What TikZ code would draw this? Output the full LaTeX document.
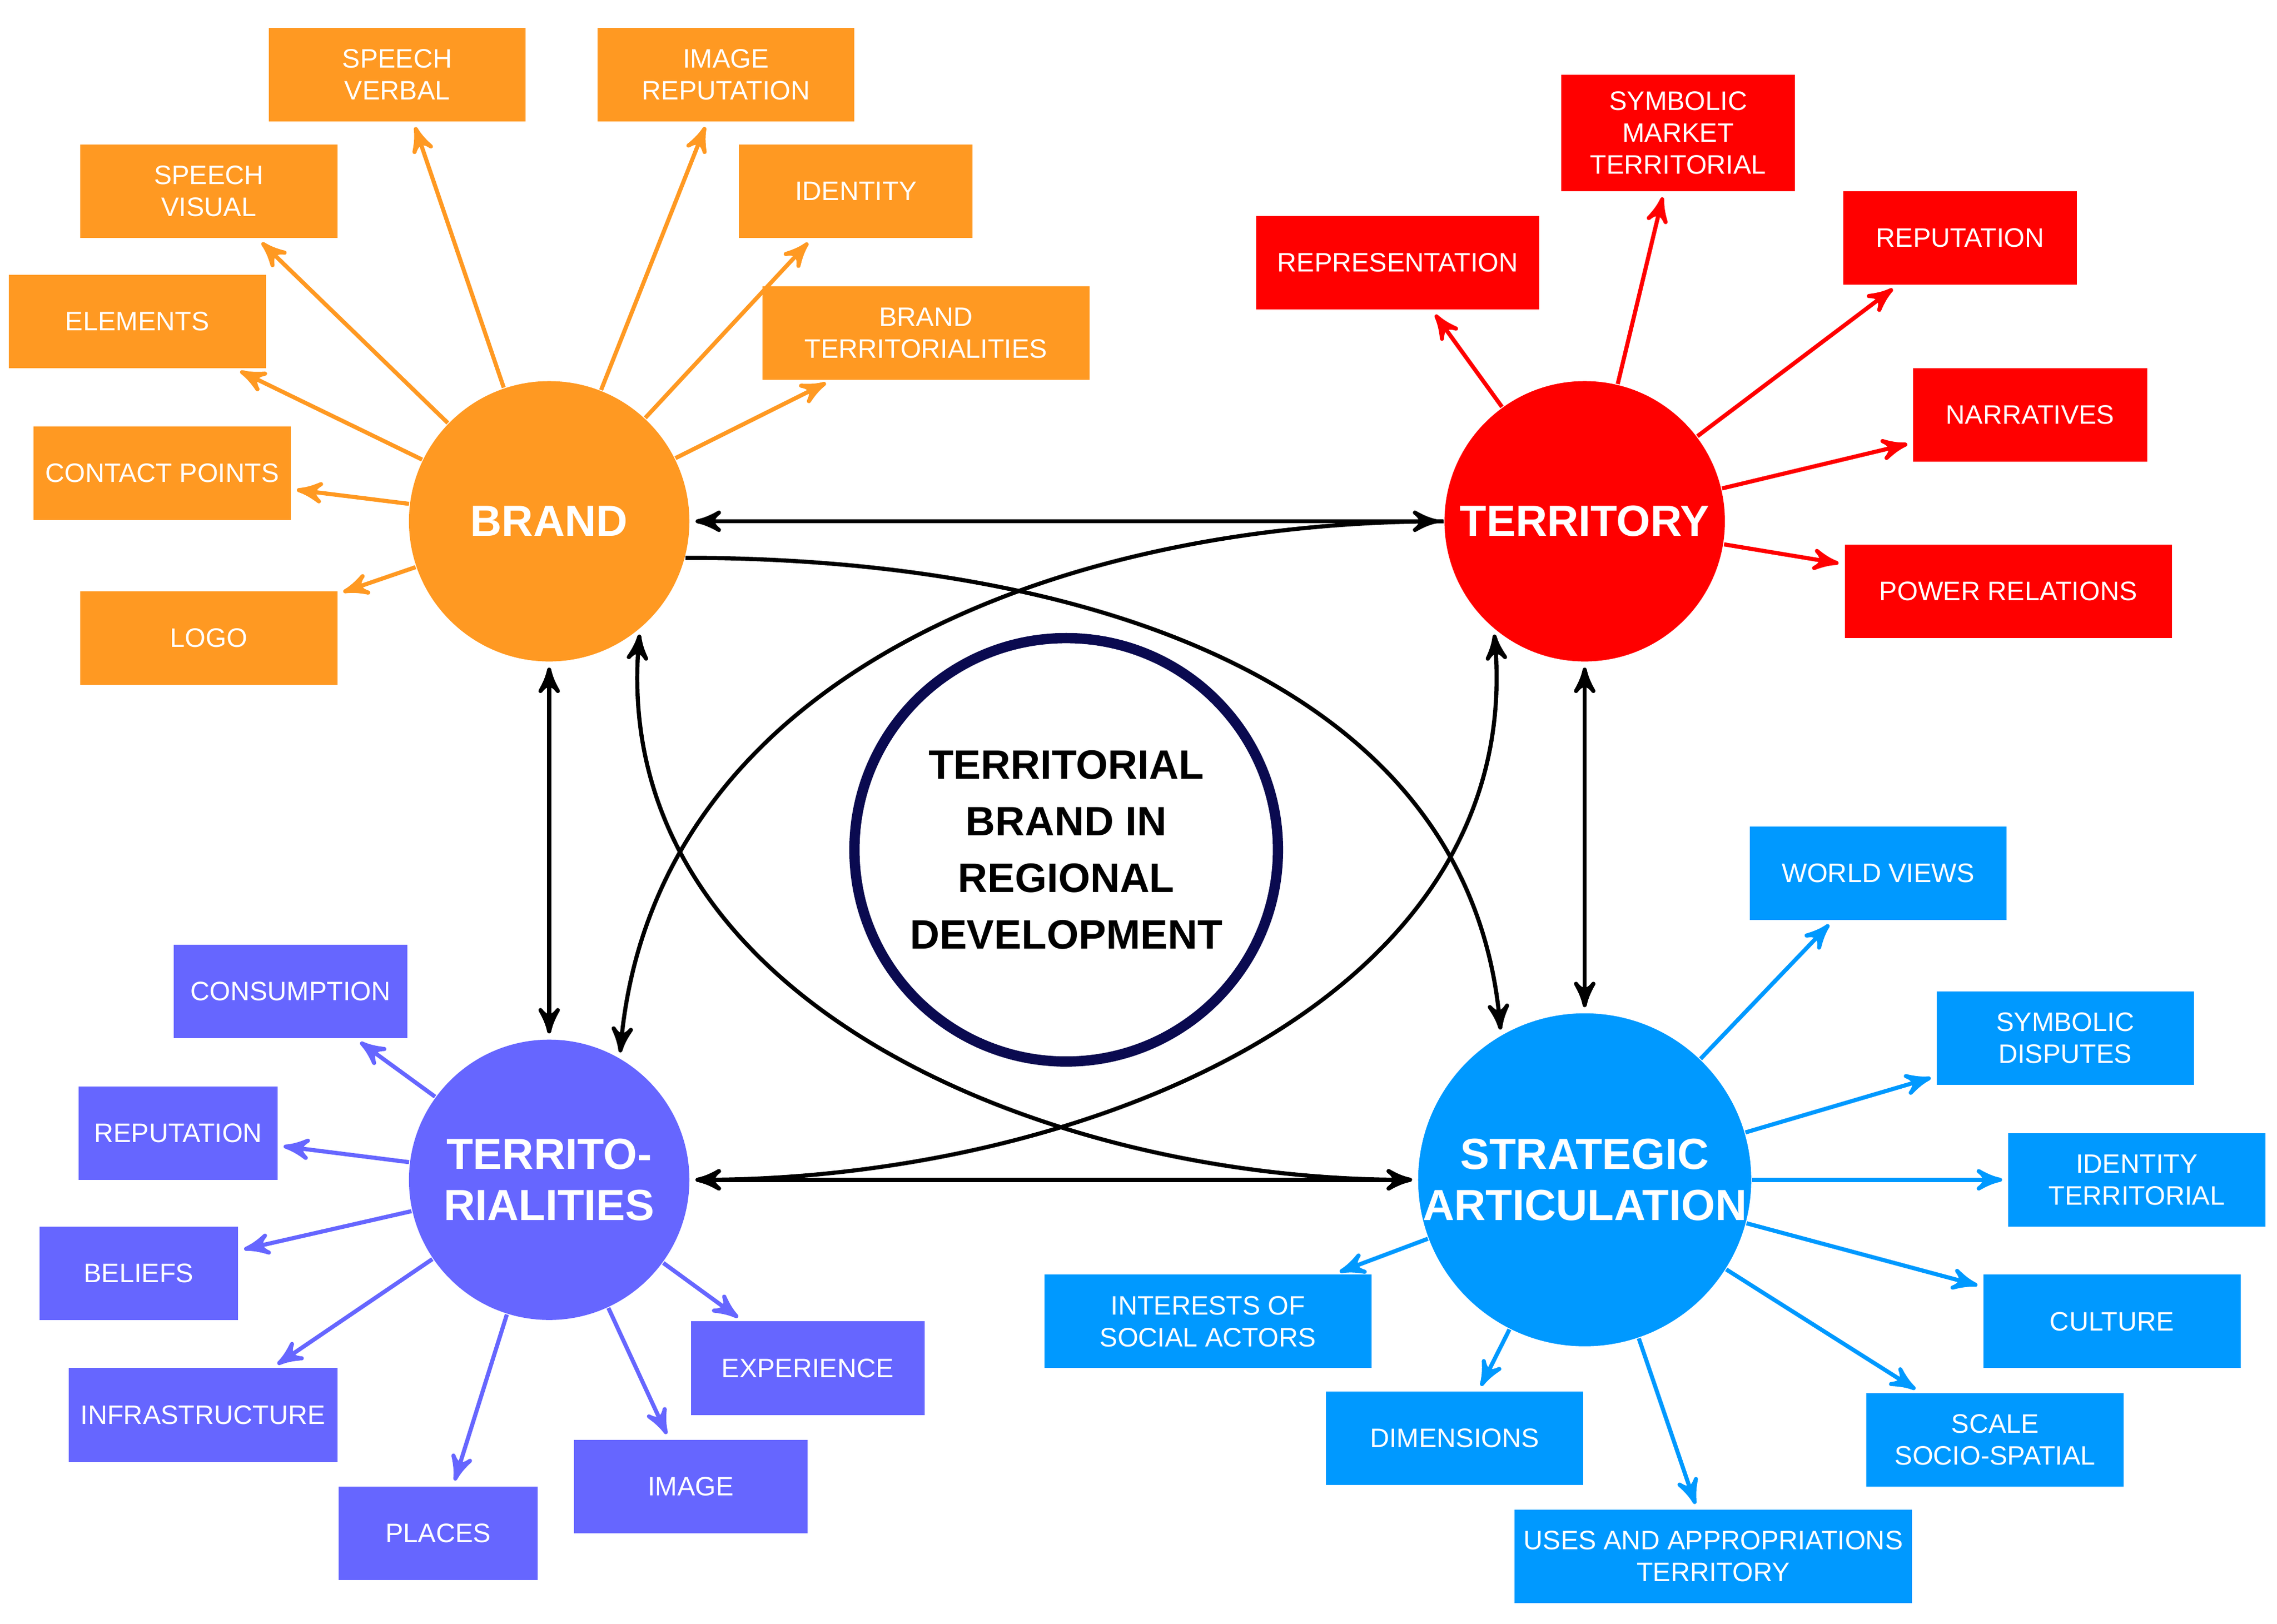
\documentclass[tikz,border=0pt]{standalone}
\usepackage{fontspec}
\setmainfont{Liberation Sans}
\usetikzlibrary{arrows}

\definecolor{brandc}{RGB}{255,153,34}
\definecolor{terrc}{RGB}{255,0,0}
\definecolor{tialc}{RGB}{102,102,255}
\definecolor{stratc}{RGB}{0,153,255}
\definecolor{navy}{RGB}{10,10,80}

\begin{document}
\begin{tikzpicture}[x=0.1mm,y=-0.1mm,>=stealth',
                    hub/.style={circle,minimum size=19.2mm,inner sep=0pt,text=white,align=center,
                                font=\fontsize{8.5}{10}\selectfont\bfseries},
                    box/.style={rectangle,minimum height=6.4mm,inner sep=1pt,text=white,align=center,
                                font=\fontsize{5.2}{6.2}\selectfont},
                    orange box/.style={box,fill=brandc},
                    red box/.style={box,fill=terrc},
                    purple box/.style={box,fill=tialc},
                    blue box/.style={box,fill=stratc},
                    spoke/.style={->,thick,shorten >=1pt}]
\useasboundingbox (0,0) rectangle (1559,1112);

% hubs
\node[hub,fill=brandc] (brand) at (376,357) {BRAND};
\node[hub,fill=terrc] (territory) at (1085,357) {TERRITORY};
\node[hub,fill=tialc] (tial) at (376,808) {TERRITO-\\RIALITIES};
\node[hub,fill=stratc] (strat) at (1085,808) {STRATEGIC\\ARTICULATION};
\node[circle,draw=navy,line width=2pt,minimum size=29mm,align=center,
      font=\fontsize{8}{11}\selectfont\bfseries] (center) at (730,582)
      {TERRITORIAL\\BRAND IN\\REGIONAL\\DEVELOPMENT};

% brand boxes
\node[orange box,minimum width=17.6mm] (b1) at (272,51) {SPEECH\\VERBAL};
\node[orange box,minimum width=17.6mm] (b2) at (497,51) {IMAGE\\REPUTATION};
\node[orange box,minimum width=17.6mm] (b3) at (143,131) {SPEECH\\VISUAL};
\node[orange box,minimum width=16mm] (b4) at (586,131) {IDENTITY};
\node[orange box,minimum width=17.6mm] (b5) at (94,220) {ELEMENTS};
\node[orange box,minimum width=22.4mm] (b6) at (634,228) {BRAND\\TERRITORIALITIES};
\node[orange box,minimum width=17.6mm] (b7) at (111,324) {CONTACT POINTS};
\node[orange box,minimum width=17.6mm] (b8) at (143,437) {LOGO};

% territory boxes
\node[red box,minimum width=16mm,minimum height=8mm] (t1) at (1149,91) {SYMBOLIC\\MARKET\\TERRITORIAL};
\node[red box,minimum width=19.4mm] (t2) at (957,180) {REPRESENTATION};
\node[red box,minimum width=16mm] (t3) at (1342,163) {REPUTATION};
\node[red box,minimum width=16mm] (t4) at (1390,284) {NARRATIVES};
\node[red box,minimum width=22.4mm] (t5) at (1375,405) {POWER RELATIONS};

% territorialities boxes
\node[purple box,minimum width=16mm] (p1) at (199,679) {CONSUMPTION};
\node[purple box,minimum width=13.6mm] (p2) at (122,776) {REPUTATION};
\node[purple box,minimum width=13.6mm] (p3) at (95,872) {BELIEFS};
\node[purple box,minimum width=18.4mm] (p4) at (139,969) {INFRASTRUCTURE};
\node[purple box,minimum width=13.6mm] (p5) at (300,1050) {PLACES};
\node[purple box,minimum width=16mm] (p6) at (473,1018) {IMAGE};
\node[purple box,minimum width=16mm] (p7) at (553,937) {EXPERIENCE};

% strategic boxes
\node[blue box,minimum width=17.6mm] (s1) at (1286,598) {WORLD VIEWS};
\node[blue box,minimum width=17.6mm] (s2) at (1414,711) {SYMBOLIC\\DISPUTES};
\node[blue box,minimum width=17.6mm] (s3) at (1463,808) {IDENTITY\\TERRITORIAL};
\node[blue box,minimum width=17.6mm] (s4) at (1446,905) {CULTURE};
\node[blue box,minimum width=17.6mm] (s5) at (1366,986) {SCALE\\SOCIO-SPATIAL};
\node[blue box,minimum width=27.2mm] (s6) at (1173,1066) {USES AND APPROPRIATIONS\\TERRITORY};
\node[blue box,minimum width=17.6mm] (s7) at (996,985) {DIMENSIONS};
\node[blue box,minimum width=22.4mm] (s8) at (827,905) {INTERESTS OF\\SOCIAL ACTORS};

% spokes
\foreach \b in {b1,b2,b3,b4,b5,b6,b7,b8}
  \draw[spoke,brandc] (brand) -- (\b);
\foreach \t in {t1,t2,t3,t4,t5}
  \draw[spoke,terrc] (territory) -- (\t);
\foreach \p in {p1,p2,p3,p4,p5,p6,p7}
  \draw[spoke,tialc] (tial) -- (\p);
\foreach \s in {s1,s2,s3,s4,s5,s6,s7,s8}
  \draw[spoke,stratc] (strat) -- (\s);

% links between hubs
\path[<->,thick,shorten >=1pt,shorten <=1pt]
  (brand) edge (territory)
          edge (tial)
  (territory) edge (strat)
  (tial) edge (strat);

\draw[->,thick,shorten >=1pt] (brand.-15) to[out=0,in=95] (strat.120);
\draw[<->,thick,shorten >=1pt,shorten <=1pt] (brand.-50) to[out=-95,in=180] (strat.west);
\draw[->,thick,shorten >=1pt] (territory.west) to[out=180,in=85] (tial.60);
\draw[<->,thick,shorten >=1pt,shorten <=1pt] (territory.-130) to[out=-85,in=0] (tial.east);
\end{tikzpicture}
\end{document}
